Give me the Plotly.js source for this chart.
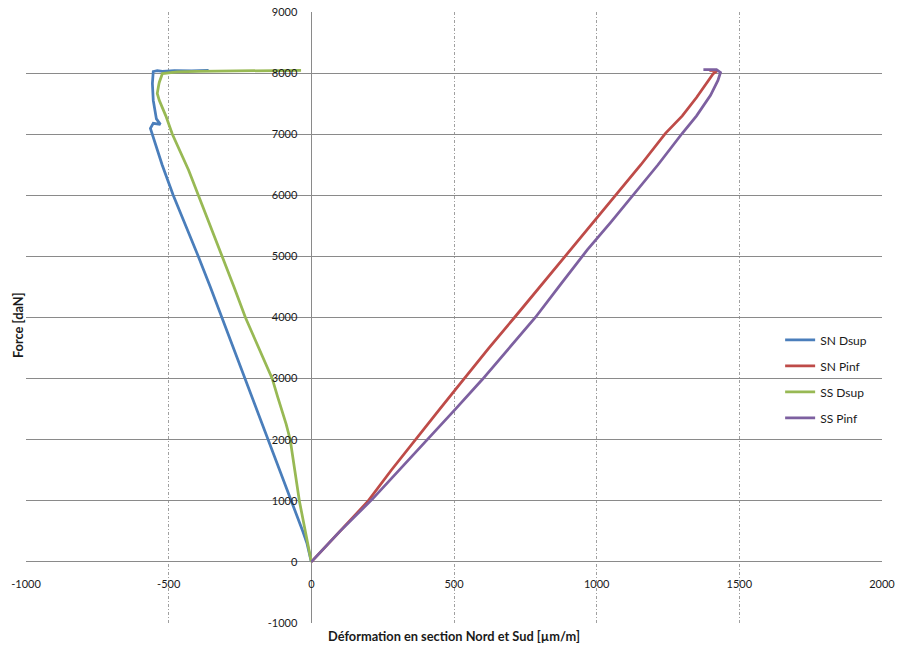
<!DOCTYPE html>
<html>
<head>
<meta charset="utf-8">
<script src="https://cdn.plot.ly/plotly-3.0.1.min.js"></script>
<style>html,body{margin:0;padding:0;background:#fff;}#chart{width:898px;height:648px;}</style>
</head>
<body>
<div id="chart"></div>
<script>
const seriesNames = ["SN Dsup", "SN Pinf", "SS Dsup", "SS Pinf"];

const snDsupX = [0, -15, -29, -50, -70, -110, -151, -191, -231, -272, -312, -354, -396, -440, -484, -523, -555, -564, -554, -529, -543, -554, -557, -554, -540, -522, -480, -420, -360];
const snDsupY = [0, 300, 489, 750, 1000, 1500, 2000, 2500, 3000, 3500, 4000, 4500, 5000, 5500, 6000, 6500, 6950, 7096, 7178, 7160, 7250, 7553, 7830, 8026, 8040, 8030, 8040, 8035, 8045];

const snPinfX = [0, 95, 196, 280, 365, 450, 533, 622, 712, 810, 908, 987, 1066, 1155, 1241, 1276, 1300, 1350, 1409, 1423, 1395];
const snPinfY = [0, 480, 980, 1500, 2007, 2500, 2985, 3500, 4000, 4550, 5106, 5550, 6003, 6500, 7015, 7178, 7300, 7600, 7993, 8042, 8045];

const ssDsupX = [0, -21, -42, -58, -74, -88, -102, -118, -137, -183, -231, -271, -312, -354, -396, -430, -487, -510, -533, -540, -535, -533, -522, -470, -400, -300, -200, -120, -36];
const ssDsupY = [0, 500, 1000, 1500, 2000, 2250, 2450, 2700, 3000, 3500, 4000, 4500, 5000, 5500, 6000, 6411, 7000, 7300, 7553, 7667, 7800, 7847, 7993, 8020, 8030, 8035, 8030, 8040, 8045];

const ssPinfX = [0, 100, 214, 310, 410, 505, 599, 690, 785, 875, 967, 1050, 1129, 1215, 1300, 1350, 1399, 1425, 1434, 1420, 1374];
const ssPinfY = [0, 500, 1028, 1510, 2007, 2500, 2985, 3480, 4000, 4550, 5106, 5560, 6003, 6500, 7015, 7300, 7635, 7880, 8010, 8055, 8055];

const colors = ["#4a7ebb", "#be4b48", "#98b954", "#7d60a0"];
const xs = [snDsupX, snPinfX, ssDsupX, ssPinfX];
const ys = [snDsupY, snPinfY, ssDsupY, ssPinfY];

const xTickVals = [-1000, -500, 0, 500, 1000, 1500, 2000];
const yTickVals = [-1000, 0, 1000, 2000, 3000, 4000, 5000, 6000, 7000, 8000, 9000];

const xTitle = "Déformation en section Nord et Sud [µm/m]";
const yTitle = "Force [daN]";

const traces = seriesNames.map((n, i) => ({
  type: "scatter", mode: "lines", name: n,
  x: xs[i], y: ys[i], legendgroup: "g" + i,
  line: {color: colors[i], width: 2.75}
}));

const fam = "Lato, 'Liberation Sans', sans-serif";
const font = {family: fam, size: 11, color: "#1a1a1a"};
const titleFont = {family: fam, size: 12.8, color: "#1a1a1a"};

const layout = {
  width: 898, height: 648,
  margin: {l: 26, r: 16, t: 12, b: 25},
  paper_bgcolor: "#fff", plot_bgcolor: "#fff",
  font: font,
  showlegend: true,
  legend: {x: 0.881, xanchor: "left", y: 0.487, yanchor: "top",
           bgcolor: "rgba(0,0,0,0)", font: {family: fam, size: 12, color: "#1a1a1a"}, itemwidth: 30,
           traceorder: "grouped", tracegroupgap: 7},
  xaxis: {
    range: [-1000, 2000], tickvals: xTickVals, ticktext: xTickVals.map(String),
    showgrid: true, gridcolor: "#a0a0a0", gridwidth: 1, griddash: "3px,2px,1px,2px",
    zeroline: true, zerolinecolor: "#8a8a8a", zerolinewidth: 1,
    showline: false, ticks: "", anchor: "free", position: 0.1,
    ticklabelstandoff: 14, tickfont: font
  },
  yaxis: {
    range: [-1000, 9000], tickvals: yTickVals, ticktext: yTickVals.map(String),
    showgrid: true, gridcolor: "#8a8a8a", gridwidth: 1,
    zeroline: true, zerolinecolor: "#8a8a8a", zerolinewidth: 1,
    showline: false, ticks: "", anchor: "free", position: 1/3,
    ticklabelstandoff: 14, tickfont: font
  },
  annotations: [
    {text: "<b>" + xTitle + "</b>", xref: "paper", yref: "paper", x: 0.5, y: -0.021,
     xanchor: "center", yanchor: "middle", showarrow: false, font: titleFont},
    {text: "<b>" + yTitle + "</b>", xref: "paper", yref: "paper", x: -0.0093, y: 0.4877,
     xanchor: "center", yanchor: "middle", textangle: -90, showarrow: false, font: titleFont}
  ]
};

Plotly.newPlot("chart", traces, layout, {displayModeBar: false, staticPlot: true});
</script>
</body>
</html>
